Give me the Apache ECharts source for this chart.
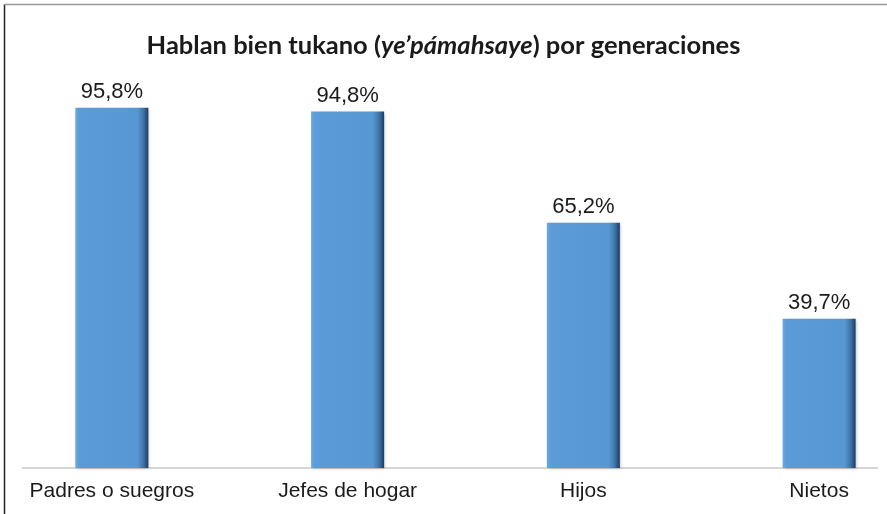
<!DOCTYPE html>
<html>
<head>
<meta charset="utf-8">
<script src="https://cdn.jsdelivr.net/npm/echarts@6/dist/echarts.min.js"></script>
<style>
  html, body { margin: 0; padding: 0; background: #fff; }
  #chart { width: 887px; height: 514px; }
</style>
</head>
<body>
<div id="chart"></div>
<script>
// datos
var categorias = ["Padres o suegros", "Jefes de hogar", "Hijos", "Nietos"];
var porcentajes = [95.8, 94.8, 65.2, 39.7];

var myChart = echarts.init(document.getElementById("chart"));

myChart.setOption({
  animation: false,
  backgroundColor: "#fff",
  title: {
    left: "center",
    top: 28,
    text: "{n|Hablan bien tukano (}{i|ye’pámahsaye}{n|) por generaciones}",
    textStyle: {
      rich: {
        n: { fontFamily: "Lato", fontWeight: "bold", fontSize: 25.5, color: "#1a1a1a" },
        i: { fontFamily: "Lato", fontWeight: "bold", fontStyle: "italic", fontSize: 25.5, color: "#1a1a1a" },
      },
    },
  },
  grid: {
    left: -6,
    width: 943, // el eje de categorías es más ancho que la ventana, como en el original
    top: 92,
    bottom: 46,
    outerBoundsMode: "none",
    containLabel: false,
  },
  xAxis: {
    type: "category",
    data: categorias,
    axisLine: { show: false },
    axisTick: { show: false },
    axisLabel: {
      margin: 13,
      color: "#1a1a1a",
      fontFamily: "Liberation Sans",
      fontSize: 21,
    },
  },
  yAxis: {
    type: "value",
    min: 0,
    max: 100,
    show: false,
  },
  graphic: [
    // linea base del eje
    { type: "line", shape: { x1: 22, y1: 468, x2: 878, y2: 468 }, style: { stroke: "#c8c8c8", lineWidth: 1.5 } },
    // borde del recuadro (izquierda y arriba)
    { type: "line", shape: { x1: 4.5, y1: 4, x2: 4.5, y2: 514 }, style: { stroke: "#222", lineWidth: 1.5 } },
    { type: "line", shape: { x1: 4, y1: 4.5, x2: 887, y2: 4.5 }, style: { stroke: "#999", lineWidth: 1.5 } },
  ],
  series: [
    {
      type: "bar",
      data: porcentajes,
      barWidth: 73,
      itemStyle: {
        color: {
          type: "linear",
          x: 0, y: 0, x2: 1, y2: 0,
          colorStops: [
            { offset: 0, color: "#6aa8e0" },
            { offset: 0.06, color: "#5b9bd8" },
            { offset: 0.85, color: "#5797d3" },
            { offset: 0.93, color: "#3f74a8" },
            { offset: 1, color: "#1c3d60" },
          ],
        },
        shadowColor: "rgba(0,0,0,0.25)",
        shadowBlur: 3,
        shadowOffsetX: 1,
        shadowOffsetY: 1,
      },
      label: {
        show: true,
        position: "top",
        distance: 5,
        color: "#1a1a1a",
        fontFamily: "Liberation Sans",
        fontSize: 22,
        formatter: function (p) {
          return p.value.toFixed(1).replace(".", ",") + "%";
        },
      },
    },
  ],
});
</script>
</body>
</html>
